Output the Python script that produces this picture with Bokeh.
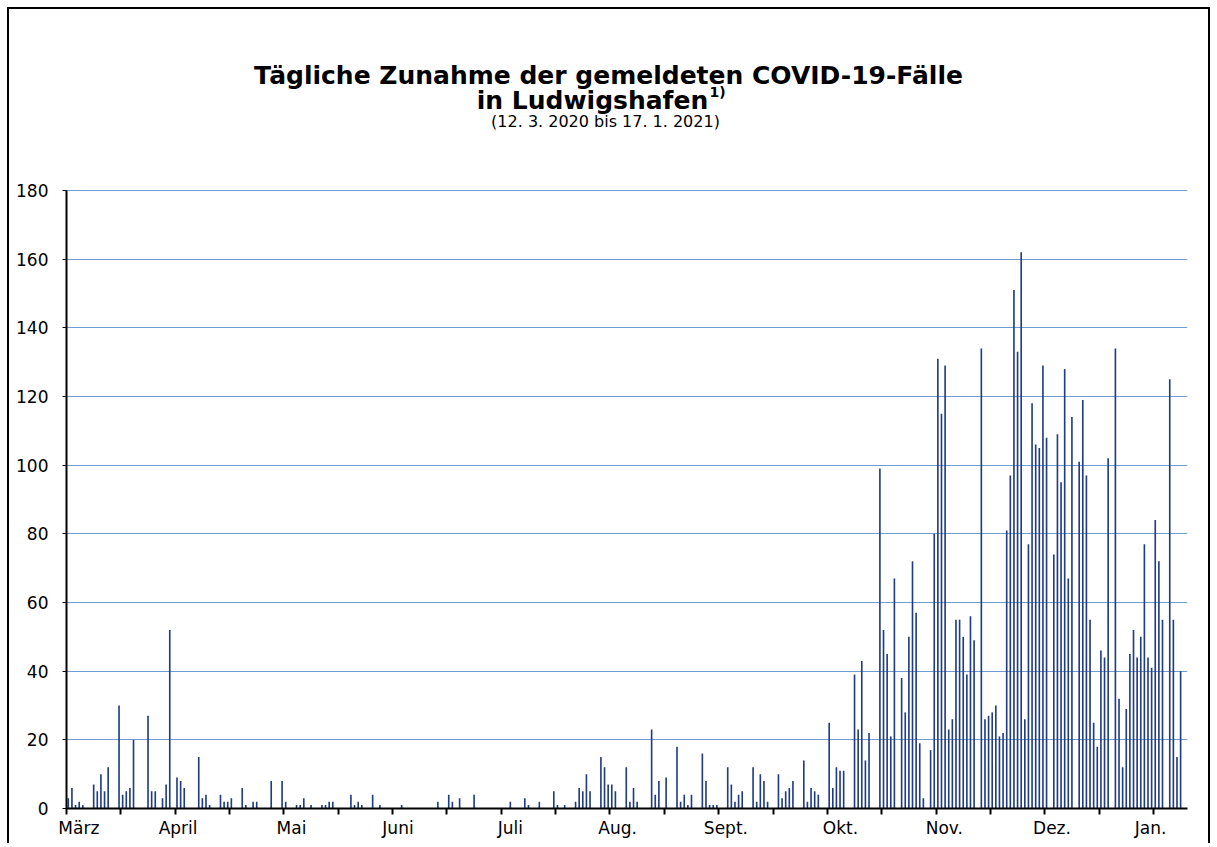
from bokeh.plotting import figure
from bokeh.models import ColumnDataSource, FixedTicker, Label, Range1d
from bokeh.embed import file_html
from bokeh.resources import INLINE

# Daily new COVID-19 cases, Ludwigshafen (one entry per day)
cases = [
    3, 6, 1, 2, 1, 0, 0, 7, 5, 10,
    5, 12, 0, 0, 30, 4, 5, 6, 20, 0,
    0, 0, 27, 5, 5, 0, 3, 7, 52, 0,
    9, 8, 6, 0, 0, 0, 15, 3, 4, 1,
    0, 0, 4, 2, 2, 3, 0, 0, 6, 1,
    0, 2, 2, 0, 0, 0, 8, 0, 0, 8,
    2, 0, 0, 1, 1, 3, 0, 1, 0, 0,
    1, 1, 2, 2, 0, 0, 0, 0, 4, 1,
    2, 1, 0, 0, 4, 0, 1, 0, 0, 0,
    0, 0, 1, 0, 0, 0, 0, 0, 0, 0,
    0, 0, 2, 0, 0, 4, 2, 0, 3, 0,
    0, 0, 4, 0, 0, 0, 0, 0, 0, 0,
    0, 0, 2, 0, 0, 0, 3, 1, 0, 0,
    2, 0, 0, 0, 5, 1, 0, 1, 0, 0,
    2, 6, 5, 10, 5, 0, 0, 15, 12, 7,
    7, 5, 0, 0, 12, 2, 6, 2, 0, 0,
    0, 23, 4, 8, 0, 9, 0, 0, 18, 2,
    4, 1, 4, 0, 0, 16, 8, 1, 1, 1,
    0, 0, 12, 7, 2, 4, 5, 0, 0, 12,
    2, 10, 8, 2, 0, 0, 10, 3, 5, 6,
    8, 0, 0, 14, 2, 6, 5, 4, 0, 0,
    25, 6, 12, 11, 11, 0, 0, 39, 23, 43,
    14, 22, 0, 0, 99, 52, 45, 21, 67, 0,
    38, 28, 50, 72, 57, 19, 3, 0, 17, 80,
    131, 115, 129, 23, 26, 55, 55, 50, 39, 56,
    49, 0, 134, 26, 27, 28, 30, 21, 22, 81,
    97, 151, 133, 162, 26, 77, 118, 106, 105, 129,
    108, 0, 74, 109, 95, 128, 67, 114, 0, 101,
    119, 97, 55, 25, 18, 46, 44, 102, 0, 134,
    32, 12, 29, 45, 52, 44, 50, 77, 44, 41,
    84, 72, 55, 0, 125, 55, 15, 40, 0,
]
days = list(range(len(cases)))

month_names = ["März", "April", "Mai", "Juni", "Juli", "Aug.", "Sept.",
               "Okt.", "Nov.", "Dez.", "Jan."]
month_label_day = [2.9, 30.3, 61.6, 91.0, 122.0, 151.6, 181.5, 213.1, 241.8, 271.5, 298.7]
tick_days = [-0.5 + 15 * k for k in range(21)]
y_ticks = [0, 20, 40, 60, 80, 100, 120, 140, 160, 180]
y_max = 180

title_1 = "Tägliche Zunahme der gemeldeten COVID-19-Fälle"
title_2 = "in Ludwigshafen"
title_sup = "1)"
subtitle = "(12. 3. 2020 bis 17. 1. 2021)"

FONT = "DejaVu Sans"
BAR = "#1f3c84"
GRID = "#6f9dd1"

# frame geometry (pixels): frame spans the canvas height so the titles sit inside it
W, H = 1203, 836
MB_LEFT, MB_RIGHT, MB_BOTTOM = 57, 25, 37
FRAME_H = H - MB_BOTTOM
PX_180 = 618.0                      # pixel height of the 0..180 span
y_top = y_max * FRAME_H / PX_180    # data value at the frame top

src = ColumnDataSource(dict(day=days, cases=cases))

p = figure(width=W, height=H, output_backend="svg", toolbar_location=None,
           title_location=None,
           x_range=Range1d(-0.5, 308.9), y_range=Range1d(0, y_top),
           min_border_left=MB_LEFT, min_border_right=MB_RIGHT, min_border_top=0,
           min_border_bottom=MB_BOTTOM)
p.styles = {"margin-left": "7px", "margin-top": "7px",
            "border-top": "2px solid black", "border-left": "2px solid black",
            "border-right": "2px solid black"}
p.outline_line_color = None
p.background_fill_color = "white"
p.border_fill_color = "white"

p.vbar(x="day", top="cases", bottom=0, width=0.45, source=src,
       fill_color=BAR, line_color=None)

# x axis
p.xgrid.visible = False
xa = p.xaxis[0]
xa.ticker = FixedTicker(ticks=month_label_day, minor_ticks=tick_days)
xa.major_label_overrides = {d: n for d, n in zip(month_label_day, month_names)}
xa.major_tick_out = 0
xa.major_tick_in = 0
xa.minor_tick_out = 6
xa.minor_tick_in = 0
xa.minor_tick_line_color = "black"
xa.minor_tick_line_width = 2
xa.axis_line_color = "black"
xa.axis_line_width = 2
xa.major_label_standoff = 3
xa.major_label_text_font = FONT
xa.major_label_text_font_size = "17px"
xa.major_label_text_color = "black"

# y axis (line limited to 0..180)
ya = p.yaxis[0]
ya.bounds = (0, y_max)
ya.ticker = FixedTicker(ticks=y_ticks, minor_ticks=[])
ya.major_tick_out = 4
ya.major_tick_in = 0
ya.major_tick_line_color = "black"
ya.major_tick_line_width = 1
ya.axis_line_color = "black"
ya.axis_line_width = 2
ya.major_label_standoff = 14
ya.major_label_text_font = FONT
ya.major_label_text_font_size = "17px"
ya.major_label_text_color = "black"

p.ygrid.grid_line_color = GRID
p.ygrid.grid_line_width = 1

# titles (screen units relative to plot frame: x from left, y up from bottom)
def add_text(x, y, text, size, bold=True, align="center"):
    p.add_layout(Label(x=x, y=y, x_units="screen", y_units="screen", text=text,
                       text_align=align, text_baseline="alphabetic", text_font=FONT,
                       text_font_style="bold" if bold else "normal",
                       text_font_size=size, text_color="black"))

add_text(542, 733, title_1, "25px")
add_text(526, 708, title_2, "25px")
add_text(643, 717, title_sup, "14px", align="left")
add_text(539, 687, subtitle, "16px", bold=False)

open("out.html", "w").write(file_html(p, INLINE))
